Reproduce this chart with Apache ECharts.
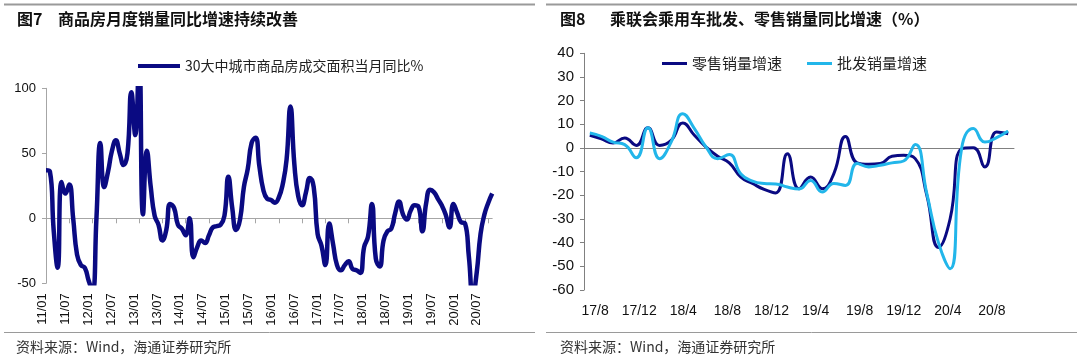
<!DOCTYPE html>
<html><head><meta charset="utf-8">
<script src="https://cdn.jsdelivr.net/npm/echarts@6/dist/echarts.min.js"></script>
<style>html,body{margin:0;padding:0;background:#fff}#c{width:1080px;height:361px}</style>
</head><body><div id="c"></div>
<script>
// ---------- Figure 7 data (monthly, 2011/01 - 2020/08) ----------
const houseMonths = [];
for (let y = 2011; y <= 2020; y++) {
  for (let m = 1; m <= 12; m++) {
    if (y === 2020 && m > 8) break;
    houseMonths.push(String(y).slice(2) + '/' + String(m).padStart(2, '0'));
  }
}
const houseTickLabels = ['11/01','11/07','12/01','12/07','13/01','13/07','14/01','14/07','15/01','15/07',
  '16/01','16/07','17/01','17/07','18/01','18/07','19/01','19/07','20/01','20/07'];
const houseYoY = [
  37, 36, -10, -38, 28, 19, 26, 0, -28, -36, -38, -48,
  -56, 0, 58, 24, 36, 52, 60, 50, 41, 50, 97, 64,
  125, 3, 52, 24, 2, -5, -17, -9, 11, 8, -5, -8,
  -13, 0, -30, -22, -17, -19, -13, -7, -6, -5, 2, 32,
  8, -9, -1, 24, 38, 58, 62, 40, 22, 15, 14, 12,
  16, 26, 45, 86, 42, 17, 10, 20, 31, 24, -12, -21,
  -36, -4, -20, -36, -40, -36, -33, -39, -40, -42, -22, -14,
  11, -31, -37, -17, -10, -8, 4, 13, 3, -1, 6, 10,
  9, -10, 12, 22, 20, 15, 10, 3, -7, 11, 4, -3,
  -4, -30, -60, -42, -12, 3, 12, 19
];
const houseName = '30大中城市商品房成交面积当月同比%';

// ---------- Figure 8 data (monthly, 2017/08 - 2020/08) ----------
const carMonths = [];
for (let y = 2017; y <= 2020; y++) {
  for (let m = 1; m <= 12; m++) {
    if ((y === 2017 && m < 8) || (y === 2020 && m > 8)) continue;
    carMonths.push(String(y).slice(2) + '/' + m);
  }
}
const carTickLabels = ['17/8','17/12','18/4','18/8','18/12','19/4','19/8','19/12','20/4','20/8'];
const retailYoY = [
  5.4, 3.9, 2.1, 4.2, 1.1, 8.5, 1.1, 3.2, 10.6, 5.4, 0.4, -3.5,
  -6.3, -12.3, -15, -17.5, -19, -2.4, -17.2, -12.3, -17.2, -10.8, 4.9, -6.3,
  -6.9, -6.6, -3.5, -3.1, -4.5, -20, -42, -30, -0.3, 0.1, -8, 6.8, 6
];
const wholesaleYoY = [
  6.3, 4.9, 2.5, 1.4, -4.1, 8.5, -4.5, 2.5, 14.5, 8.2, 0.4, -4.5,
  -2.8, -11, -14, -15, -15.2, -16.5, -17.3, -13.7, -18.6, -15, -15.8, -6.6,
  -8, -7.3, -6.3, -5.5, 1.5, -19.3, -40, -51, 0, 8.2, 2.5, 4.4, 7.2
];
const retailName = '零售销量增速';
const wholesaleName = '批发销量增速';

const NAVY = '#0a0a82';
const SKY = '#22b6ea';
const AXIS = '#a6a6a6';
const NUM_FONT = '"Liberation Sans", Arial, sans-serif';
const CJK_FONT = '"Noto Sans CJK SC", sans-serif';

const chart = echarts.init(document.getElementById('c'), null, {renderer: 'canvas', width: 1080, height: 361});

function hiddenY(g) {
  return {gridIndex: g, type: 'value', min: 0, max: 1, show: false};
}

const option = {
  animation: false,
  backgroundColor: '#fff',
  grid: [
    {left: 46, top: 88.3, width: 446.2, height: 195},
    {left: 31.3, top: 88.3, width: 457, height: 195},
    {left: 584, top: 53.3, width: 430, height: 236.7},
    {left: 573, top: 53.3, width: 441, height: 236.7}
  ],
  xAxis: [
    {gridIndex: 0, type: 'category', data: houseMonths, boundaryGap: false,
      axisLine: {onZero: true, lineStyle: {color: AXIS, width: 1}},
      axisTick: {interval: 5, length: 5, lineStyle: {color: AXIS}},
      axisLabel: {show: false}, splitLine: {show: false}},
    {gridIndex: 1, type: 'category', data: houseTickLabels, boundaryGap: true,
      axisLine: {show: false}, axisTick: {show: false},
      axisLabel: {interval: 0, rotate: 90, margin: 10, fontSize: 13, color: '#111', fontFamily: NUM_FONT}},
    {gridIndex: 2, type: 'category', data: carMonths, boundaryGap: true,
      axisLine: {onZero: true, lineStyle: {color: '#808080', width: 1}},
      axisTick: {interval: 3, length: 5, lineStyle: {color: '#808080'}},
      axisLabel: {show: false}, splitLine: {show: false}},
    {gridIndex: 3, type: 'category', data: carTickLabels, boundaryGap: true,
      axisLine: {show: false}, axisTick: {show: false},
      axisLabel: {interval: 0, margin: 14, fontSize: 14, color: '#111', fontFamily: NUM_FONT}}
  ],
  yAxis: [
    {gridIndex: 0, type: 'value', min: -50, max: 100, interval: 50,
      axisLine: {show: true, lineStyle: {color: AXIS}},
      axisTick: {show: true, length: 4, lineStyle: {color: AXIS}},
      splitLine: {show: false},
      axisLabel: {margin: 10, fontSize: 13, color: '#111', fontFamily: NUM_FONT}},
    hiddenY(1),
    {gridIndex: 2, type: 'value', min: -60, max: 40, interval: 10,
      axisLine: {show: true, lineStyle: {color: '#808080'}},
      axisTick: {show: true, length: 4, lineStyle: {color: '#808080'}},
      splitLine: {show: false},
      axisLabel: {margin: 10, fontSize: 15, color: '#111', fontFamily: NUM_FONT}},
    hiddenY(3)
  ],
  legend: [
    {data: [houseName], left: 138, top: 59, padding: 0, icon: 'rect', itemWidth: 42, itemHeight: 4,
      textStyle: {fontSize: 14, color: '#222', fontFamily: CJK_FONT}},
    {data: [retailName, wholesaleName], left: 662, top: 56, padding: 0, icon: 'rect',
      itemWidth: 25, itemHeight: 3, itemGap: 25,
      textStyle: {fontSize: 15, color: '#222', fontFamily: CJK_FONT}}
  ],
  series: [
    {name: houseName, type: 'line', xAxisIndex: 0, yAxisIndex: 0, data: houseYoY,
      smooth: 0.5, showSymbol: false, clip: true,
      lineStyle: {color: NAVY, width: 4.5}, itemStyle: {color: NAVY}},
    {name: retailName, type: 'line', xAxisIndex: 2, yAxisIndex: 2, data: retailYoY,
      smooth: 0.5, showSymbol: false,
      lineStyle: {color: NAVY, width: 3}, itemStyle: {color: NAVY}},
    {name: wholesaleName, type: 'line', xAxisIndex: 2, yAxisIndex: 2, data: wholesaleYoY,
      smooth: 0.5, showSymbol: false,
      lineStyle: {color: SKY, width: 3}, itemStyle: {color: SKY}}
  ],
  graphic: [
    {type: 'line', shape: {x1: 4, y1: 4.5, x2: 535, y2: 4.5}, style: {stroke: '#9a9a9a', lineWidth: 2}},
    {type: 'line', shape: {x1: 546, y1: 4.5, x2: 1077, y2: 4.5}, style: {stroke: '#9a9a9a', lineWidth: 2}},
    {type: 'line', shape: {x1: 4, y1: 332.5, x2: 535, y2: 332.5}, style: {stroke: '#9a9a9a', lineWidth: 1}},
    {type: 'line', shape: {x1: 546, y1: 332.5, x2: 1077, y2: 332.5}, style: {stroke: '#9a9a9a', lineWidth: 1}},
    {type: 'text', left: 17, top: 11, style: {text: '图7', font: 'bold 16px ' + CJK_FONT, fill: '#111'}},
    {type: 'text', left: 58, top: 11, style: {text: '商品房月度销量同比增速持续改善', font: 'bold 16px ' + CJK_FONT, fill: '#111'}},
    {type: 'text', left: 560, top: 11, style: {text: '图8', font: 'bold 16px ' + CJK_FONT, fill: '#111'}},
    {type: 'text', left: 610, top: 11, style: {text: '乘联会乘用车批发、零售销量同比增速（%）', font: 'bold 16px ' + CJK_FONT, fill: '#111'}},
    {type: 'text', left: 16, top: 340, style: {text: '资料来源：Wind，海通证券研究所', font: '14px ' + CJK_FONT, fill: '#333'}},
    {type: 'text', left: 560, top: 340, style: {text: '资料来源：Wind，海通证券研究所', font: '14px ' + CJK_FONT, fill: '#333'}}
  ]
};
chart.setOption(option);
</script>
</body></html>
